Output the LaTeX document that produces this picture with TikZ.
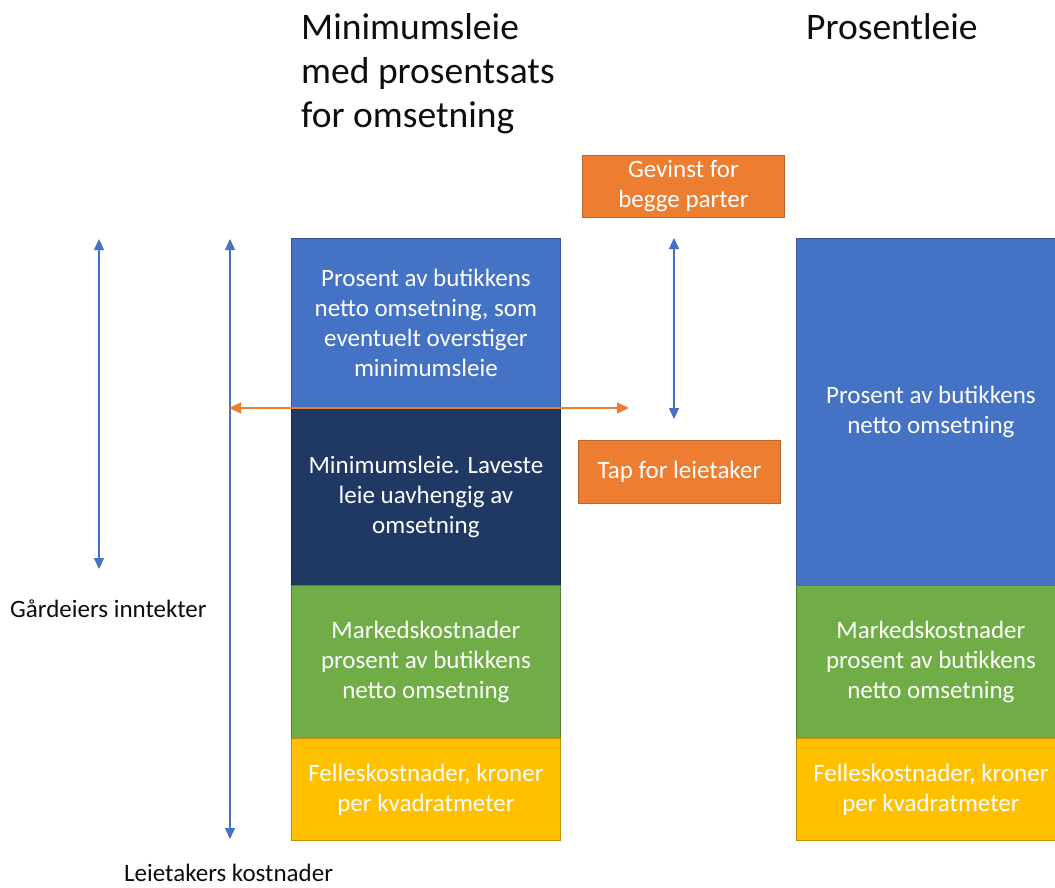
\documentclass[tikz,border=0pt]{standalone}
\usepackage{fontspec}
\setmainfont{Carlito}
\usetikzlibrary{arrows.meta}
\definecolor{cblue}{HTML}{4472C4}
\definecolor{cnavy}{HTML}{203864}
\definecolor{cgreen}{HTML}{70AD47}
\definecolor{cyellow}{HTML}{FFC000}
\definecolor{corange}{HTML}{ED7D31}
\definecolor{ctext}{HTML}{0D0D0D}
\tikzset{
  block/.style={draw=#1!75!black, fill=#1, line width=0.8pt, rectangle,
    minimum width=269pt, inner sep=0pt, text=white, align=center,
    font=\fontsize{25}{30}\selectfont, anchor=north west},
  tag/.style={draw=corange!80!black, fill=corange, line width=0.8pt, rectangle,
    inner sep=0pt, text=white, align=center, font=\fontsize{25}{30}\selectfont,
    anchor=north west},
  title/.style={anchor=base west, align=left, inner sep=0pt, text=ctext,
    font=\fontsize{37.5}{44}\selectfont},
  label/.style={anchor=base west, inner sep=0pt, text=ctext,
    font=\fontsize{25}{30}\selectfont},
  bluearrow/.style={draw=cblue, line width=1.2pt,
    {Triangle[width=10pt,length=11pt]}-{Triangle[width=10pt,length=11pt]}},
  orangearrow/.style={draw=corange, line width=1.2pt,
    {Triangle[width=11pt,length=12pt]}-{Triangle[width=11pt,length=12pt]}},
}
\begin{document}
\begin{tikzpicture}[x=1pt,y=-1pt]
\useasboundingbox (0,0) rectangle (1055,888);
\clip (0,0) rectangle (1055,888);

% titles
\node[title] (t1a) at (301,40) {Minimumsleie};
\node[title] (t1b) at (301,84) {med prosentsats};
\node[title] (t1c) at (301,128) {for omsetning};
\node[title] (t2) at (806,40) {Prosentleie};

% left column: minimum rent with turnover percentage
\node[block=cblue, minimum height=170pt] (l1) at (291,238)
  {Prosent av butikkens\\netto omsetning, som\\eventuelt overstiger\\minimumsleie};
\node[block=cnavy, minimum height=177pt] (l2) at (291,408)
  {Minimumsleie. Laveste\\leie uavhengig av\\omsetning};
\node[block=cgreen, minimum height=153pt] (l3) at (291,585)
  {Markedskostnader\\prosent av butikkens\\netto omsetning};
\node[block=cyellow, minimum height=102pt] (l4) at (291,738)
  {Felleskostnader, kroner\\per kvadratmeter};

% right column: percentage rent
\node[block=cblue, minimum height=347pt] (r1) at (796,238)
  {Prosent av butikkens\\netto omsetning};
\node[block=cgreen, minimum height=153pt] (r3) at (796,585)
  {Markedskostnader\\prosent av butikkens\\netto omsetning};
\node[block=cyellow, minimum height=102pt] (r4) at (796,738)
  {Felleskostnader, kroner\\per kvadratmeter};

% gain / loss tags
\node[tag, minimum width=202pt, minimum height=62pt] (gain) at (582,155)
  {Gevinst for\\begge parter};
\node[tag, minimum width=202pt, minimum height=63pt] (loss) at (578,440)
  {Tap for leietaker};

% axis labels
\node[label] (inc) at (10,617) {Gårdeiers inntekter};
\node[label] (cost) at (124,881) {Leietakers kostnader};

% arrow end points
\coordinate (a1t) at (99,239);
\coordinate (a1b) at (99,569);
\coordinate (a2t) at (230,239);
\coordinate (a2b) at (230,839);
\coordinate (a3t) at (674,238);
\coordinate (a3b) at (674,419);
\coordinate (o1) at (229,408);
\coordinate (o2) at (629,408);

\draw[bluearrow] (a1t) -- (a1b);
\draw[bluearrow] (a2t) -- (a2b);
\draw[bluearrow] (a3t) -- (a3b);
\draw[orangearrow] (o1) -- (o2);
\end{tikzpicture}
\end{document}
